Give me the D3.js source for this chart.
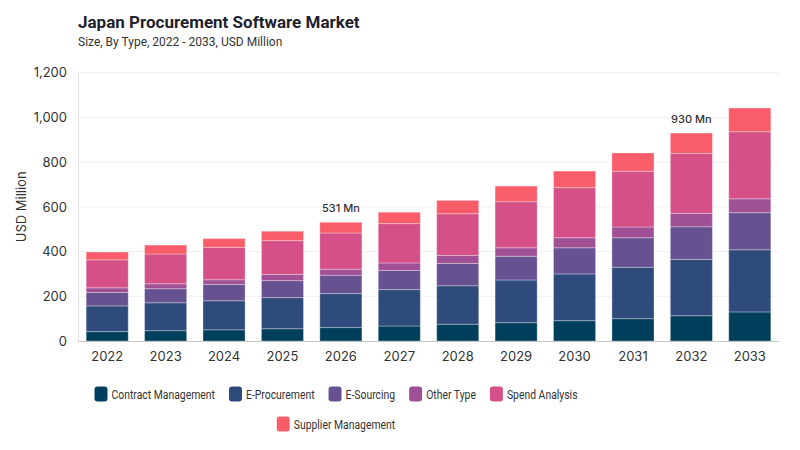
<!DOCTYPE html>
<html>
<head>
<meta charset="utf-8">
<script src="https://cdn.jsdelivr.net/npm/d3@7"></script>
<style>
  body { margin: 0; background: #fff; }
  svg { font-family: 'Inter', 'Roboto', sans-serif; }
</style>
</head>
<body>
<div id="chart"></div>
<script>
// values (USD Million)
var years = ['2022','2023','2024','2025','2026','2027','2028','2029','2030','2031','2032','2033'];
var contractManagement = [42, 46, 50, 55, 60, 67, 75, 82, 91, 100, 113, 130];
var eProcurement       = [115, 125, 130, 139, 152, 163, 172, 191, 209, 230, 252, 278];
var eSourcing          = [60, 63, 73, 76, 82, 86, 100, 106, 117, 132, 146, 166];
var otherType          = [21, 22, 21, 28, 27, 33, 36, 38, 45, 48, 60, 62];
var spendAnalysis      = [125, 133, 145, 151, 162, 176, 186, 206, 224, 249, 268, 300];
var supplierManagement = [35, 40, 39, 42, 48, 51, 60, 70, 74, 82, 91, 106];
var seriesNames = ['Contract Management','E-Procurement','E-Sourcing','Other Type','Spend Analysis','Supplier Management'];
var yTicks = [0, 200, 400, 600, 800, 1000, 1200];
var annotations = [{ year: '2026', label: '531 Mn' }, { year: '2032', label: '930 Mn' }];

var colors = ['#003f5c', '#2f4b7c', '#665191', '#a05195', '#d45087', '#f95d6a'];

var allSeries = [contractManagement, eProcurement, eSourcing, otherType, spendAnalysis, supplierManagement];
var rows = years.map(function(y, i) {
    var r = { year: y };
    seriesNames.forEach(function(n, k) { r[n] = allSeries[k][i]; });
    return r;
});

var W = 800, H = 450;
var margin = { top: 72.7, right: 21, bottom: 109, left: 78 };

var svg = d3.select('#chart').append('svg')
    .attr('width', W)
    .attr('height', H);

svg.append('text')
    .attr('x', 78).attr('y', 28)
    .style('font-family', "'Roboto', sans-serif")
    .style('font-size', '17px').style('font-weight', 'bold').style('fill', '#1f1f2e')
    .text('Japan Procurement Software Market');
svg.append('text')
    .attr('x', 78).attr('y', 46)
    .style('font-family', "'Roboto', sans-serif")
    .style('font-size', '12px').style('fill', '#333')
    .text('Size, By Type, 2022 - 2033, USD Million');

var x = d3.scaleBand()
    .domain(years)
    .range([margin.left, W - margin.right])
    .paddingInner(0.28)
    .paddingOuter(0.14);

var y = d3.scaleLinear()
    .domain([0, 1200])
    .range([H - margin.bottom, margin.top]);

// gridlines
svg.append('g')
    .selectAll('line')
    .data(yTicks.slice(1))
    .enter().append('line')
    .attr('x1', margin.left).attr('x2', W - margin.right)
    .attr('y1', function(d) { return y(d); }).attr('y2', function(d) { return y(d); })
    .style('stroke', '#f0f0f0');

var yAxis = svg.append('g')
    .attr('transform', 'translate(' + margin.left + ',0)')
    .call(d3.axisLeft(y).tickValues(yTicks).tickSize(0).tickPadding(11).tickFormat(d3.format(',')));
yAxis.select('.domain').style('stroke', '#e3e3e3');
yAxis.selectAll('text').style('font-size', '13px').style('fill', '#333').style('font-family', "'Inter', sans-serif");

svg.append('text')
    .attr('transform', 'translate(26,' + y(600) + ') rotate(-90)')
    .attr('text-anchor', 'middle')
    .style('font-size', '13px').style('fill', '#333')
    .text('USD Million');

var stack = d3.stack().keys(seriesNames);
var stacked = stack(rows);

svg.append('g')
    .selectAll('g')
    .data(stacked)
    .enter().append('g')
    .style('fill', function(d, i) { return colors[i]; })
    .selectAll('rect')
    .data(function(d) { return d; })
    .enter().append('rect')
    .attr('x', function(d) { return x(d.data.year); })
    .attr('y', function(d) { return y(d[1]); })
    .attr('width', x.bandwidth())
    .attr('height', function(d) { return y(d[0]) - y(d[1]); })
    .style('stroke', 'rgba(255,255,255,0.3)')
    .style('stroke-width', 1);

var xAxis = svg.append('g')
    .attr('transform', 'translate(0,' + (H - margin.bottom) + ')')
    .call(d3.axisBottom(x).tickSize(0).tickPadding(11));
xAxis.select('.domain').style('stroke', '#c8c8c8');
xAxis.selectAll('text').style('font-size', '13px').style('fill', '#333').style('font-family', "'Inter', sans-serif");

// total annotations
var totals = {};
rows.forEach(function(r) { totals[r.year] = d3.sum(seriesNames, function(n) { return r[n]; }); });
svg.append('g')
    .selectAll('text')
    .data(annotations)
    .enter().append('text')
    .attr('x', function(d) { return x(d.year) + x.bandwidth() / 2; })
    .attr('y', function(d) { return y(totals[d.year]) - 10; })
    .attr('text-anchor', 'middle')
    .style('font-size', '11px').style('font-weight', '500').style('fill', '#333')
    .text(function(d) { return d.label; });

// legend: two rows centered, text squeezed a little to look condensed
var legendRows = [seriesNames.slice(0, 5), seriesNames.slice(5)];
var legendCenter = 336;
var squeeze = 0.8;
legendRows.forEach(function(names, r) {
    var g = svg.append('g');
    var cx = 0;
    names.forEach(function(n) {
        var idx = seriesNames.indexOf(n);
        var item = g.append('g').attr('transform', 'translate(' + cx + ',0)');
        item.append('rect')
            .attr('x', 0).attr('y', -7.5)
            .attr('width', 13).attr('height', 15)
            .attr('rx', 3)
            .style('fill', colors[idx]);
        var t = item.append('text')
            .attr('transform', 'translate(17,0) scale(' + squeeze + ',1)')
            .attr('dy', '0.35em')
            .style('font-family', "'Roboto', sans-serif")
            .style('font-size', '13px').style('fill', '#333')
            .text(n);
        cx += 17 + t.node().getComputedTextLength() * squeeze + 14;
    });
    var total = cx - 14;
    g.attr('transform', 'translate(' + (legendCenter - total / 2) + ',' + (394 + r * 30) + ')');
});
</script>
</body>
</html>
